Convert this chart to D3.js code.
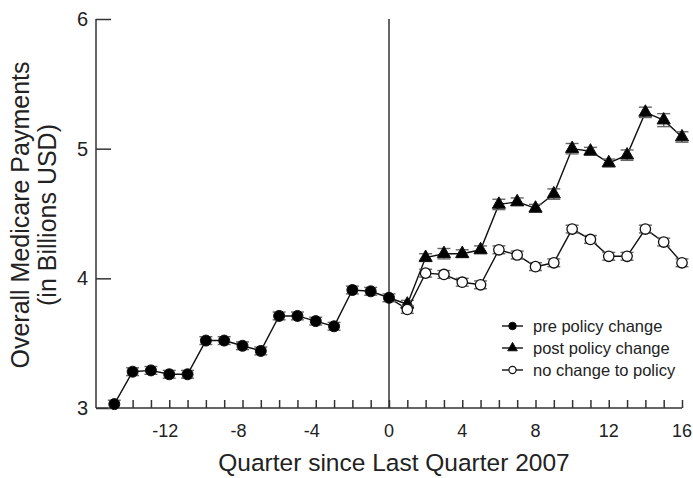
<!DOCTYPE html>
<html>
<head>
<meta charset="utf-8">
<script src="https://cdn.jsdelivr.net/npm/d3@7"></script>
<style>
  body { margin: 0; background: #fff; }
  svg text { font-family: "Liberation Sans", Arial, sans-serif; }
</style>
</head>
<body>
<svg id="chart" width="693" height="478"></svg>
<script>
// quarters relative to last quarter 2007
const preQ   = [-15, -14, -13, -12, -11, -10, -9, -8, -7, -6, -5, -4, -3, -2, -1, 0];
const preVal = [3.03, 3.28, 3.29, 3.26, 3.26, 3.52, 3.52, 3.48, 3.44, 3.71, 3.71, 3.67, 3.63, 3.91, 3.90, 3.85];
const preErr = [0.03, 0.03, 0.03, 0.03, 0.03, 0.03, 0.03, 0.03, 0.03, 0.03, 0.03, 0.03, 0.03, 0.03, 0.03, 0.03];

const postQ   = [0, 1, 2, 3, 4, 5, 6, 7, 8, 9, 10, 11, 12, 13, 14, 15, 16];
const postVal = [3.85, 3.80, 4.16, 4.19, 4.19, 4.22, 4.57, 4.59, 4.54, 4.65, 5.00, 4.98, 4.89, 4.95, 5.28, 5.22, 5.09];
const postErr = [0, 0.03, 0.03, 0.04, 0.03, 0.03, 0.04, 0.03, 0.03, 0.04, 0.04, 0.03, 0.03, 0.04, 0.04, 0.05, 0.04];

const noQ   = [0, 1, 2, 3, 4, 5, 6, 7, 8, 9, 10, 11, 12, 13, 14, 15, 16];
const noVal = [3.85, 3.76, 4.04, 4.03, 3.97, 3.95, 4.22, 4.18, 4.09, 4.12, 4.38, 4.30, 4.17, 4.17, 4.38, 4.28, 4.12];
const noErr = [0, 0.03, 0.03, 0.03, 0.03, 0.03, 0.03, 0.03, 0.03, 0.03, 0.03, 0.03, 0.03, 0.03, 0.03, 0.03, 0.03];

const xLabels = [-12, -8, -4, 0, 4, 8, 12, 16];
const yLabels = [3, 4, 5, 6];
const legendLabels = ['pre policy change', 'post policy change', 'no change to policy'];

const svg = d3.select('#chart');
const x = d3.scaleLinear().domain([-16, 16]).range([96, 682]);
const y = d3.scaleLinear().domain([3, 6]).range([408, 19]);
const axisColor = '#333';

const zip = (q, v, e) => q.map((d, i) => ({ q: d, v: v[i], e: e[i] }));
const pre = zip(preQ, preVal, preErr);
const post = zip(postQ, postVal, postErr);
const none = zip(noQ, noVal, noErr);

// vertical line at quarter 0
svg.append('line')
    .attr('x1', x(0)).attr('x2', x(0))
    .attr('y1', y(6)).attr('y2', y(3))
    .attr('stroke', axisColor).attr('stroke-width', 1.5);

// x axis, ticks pointing inward
const xAxis = svg.append('g')
    .attr('transform', `translate(0,${y(3)})`)
    .call(d3.axisBottom(x).tickValues(d3.range(-15, 17)).tickSize(-8).tickFormat(''));
xAxis.select('.domain').attr('d', `M${x(-16)},0H${x(16)}`);
xAxis.selectAll('line, path').attr('stroke', axisColor).attr('stroke-width', 1.5);

// minus sign hangs left of the tick, digits stay centred
svg.append('g').selectAll('text').data(xLabels).join('text')
    .attr('x', d => x(d) - (d < 0 ? 4 : 0)).attr('y', 437)
    .attr('text-anchor', 'middle')
    .style('font-size', '18px').attr('fill', '#222')
    .text(d => d);

// y axis
const yAxis = svg.append('g')
    .attr('transform', `translate(${x(-16)},0)`)
    .call(d3.axisLeft(y).tickValues(yLabels).tickSize(-15).tickFormat(''));
yAxis.select('.domain').attr('d', `M0,${y(6)}V${y(3)}`);
yAxis.selectAll('line, path').attr('stroke', axisColor).attr('stroke-width', 1.5);

svg.append('g').selectAll('text').data(yLabels).join('text')
    .attr('x', 88).attr('y', d => y(d) + 7)
    .attr('text-anchor', 'end')
    .style('font-size', '20px').attr('fill', '#222')
    .text(d => d);

// axis titles
svg.append('text')
    .attr('x', 394).attr('y', 471)
    .attr('text-anchor', 'middle')
    .style('font-size', '24.5px').attr('fill', '#222')
    .text('Quarter since Last Quarter 2007');

const yt = svg.append('text')
    .attr('transform', 'translate(29,215) rotate(-90)')
    .attr('text-anchor', 'middle')
    .style('font-size', '25px').attr('fill', '#222');
yt.append('tspan').attr('x', 0).attr('dy', 0).text('Overall Medicare Payments');
yt.append('tspan').attr('x', 0).attr('dy', 27).text('(in Billions USD)');

const line = d3.line().x(d => x(d.q)).y(d => y(d.v));

function drawSeries(data, shape, skipFirst) {
    const g = svg.append('g');
    g.append('path').datum(data)
        .attr('d', line)
        .attr('fill', 'none').attr('stroke', '#111').attr('stroke-width', 1.4);

    const pts = skipFirst ? data.slice(1) : data;
    const eb = g.append('g').selectAll('g').data(pts).join('g')
        .attr('stroke', '#666').attr('stroke-width', 1.4);
    eb.append('line')
        .attr('x1', d => x(d.q)).attr('x2', d => x(d.q))
        .attr('y1', d => y(d.v + d.e)).attr('y2', d => y(d.v - d.e));
    eb.append('line')
        .attr('x1', d => x(d.q) - 6.5).attr('x2', d => x(d.q) + 6.5)
        .attr('y1', d => y(d.v + d.e)).attr('y2', d => y(d.v + d.e));
    eb.append('line')
        .attr('x1', d => x(d.q) - 6.5).attr('x2', d => x(d.q) + 6.5)
        .attr('y1', d => y(d.v - d.e)).attr('y2', d => y(d.v - d.e));

    g.append('g').selectAll('path').data(pts).join('path')
        .attr('transform', d => `translate(${x(d.q)},${y(d.v)})`)
        .attr('d', shape.path)
        .attr('fill', shape.fill)
        .attr('stroke', '#111').attr('stroke-width', shape.sw);
}

const circleFilled = { path: d3.symbol(d3.symbolCircle, 95)(), fill: '#000', sw: 1 };
const triangle = { path: d3.symbol(d3.symbolTriangle, 75)(), fill: '#000', sw: 1 };
const circleOpen = { path: d3.symbol(d3.symbolCircle, 85)(), fill: '#fff', sw: 1.3 };

drawSeries(post, triangle, true);
drawSeries(none, circleOpen, true);
drawSeries(pre, circleFilled, false);

// legend
const shapes = [
    { path: d3.symbol(d3.symbolCircle, 45)(), fill: '#000', sw: 1 },
    { path: d3.symbol(d3.symbolTriangle, 40)(), fill: '#000', sw: 1 },
    { path: d3.symbol(d3.symbolCircle, 40)(), fill: '#fff', sw: 1.2 }
];
const lg = svg.append('g').selectAll('g').data(legendLabels).join('g')
    .attr('transform', (d, i) => `translate(502,${326 + i * 22})`);
lg.append('line').attr('x1', 0).attr('x2', 21)
    .attr('stroke', '#111').attr('stroke-width', 1.4);
lg.append('path').attr('transform', 'translate(10.5,0)')
    .attr('d', (d, i) => shapes[i].path)
    .attr('fill', (d, i) => shapes[i].fill)
    .attr('stroke', '#111').attr('stroke-width', (d, i) => shapes[i].sw);
lg.append('text').attr('x', 31).attr('y', 6)
    .style('font-size', '16.5px').attr('fill', '#222')
    .text(d => d);
</script>
</body>
</html>
